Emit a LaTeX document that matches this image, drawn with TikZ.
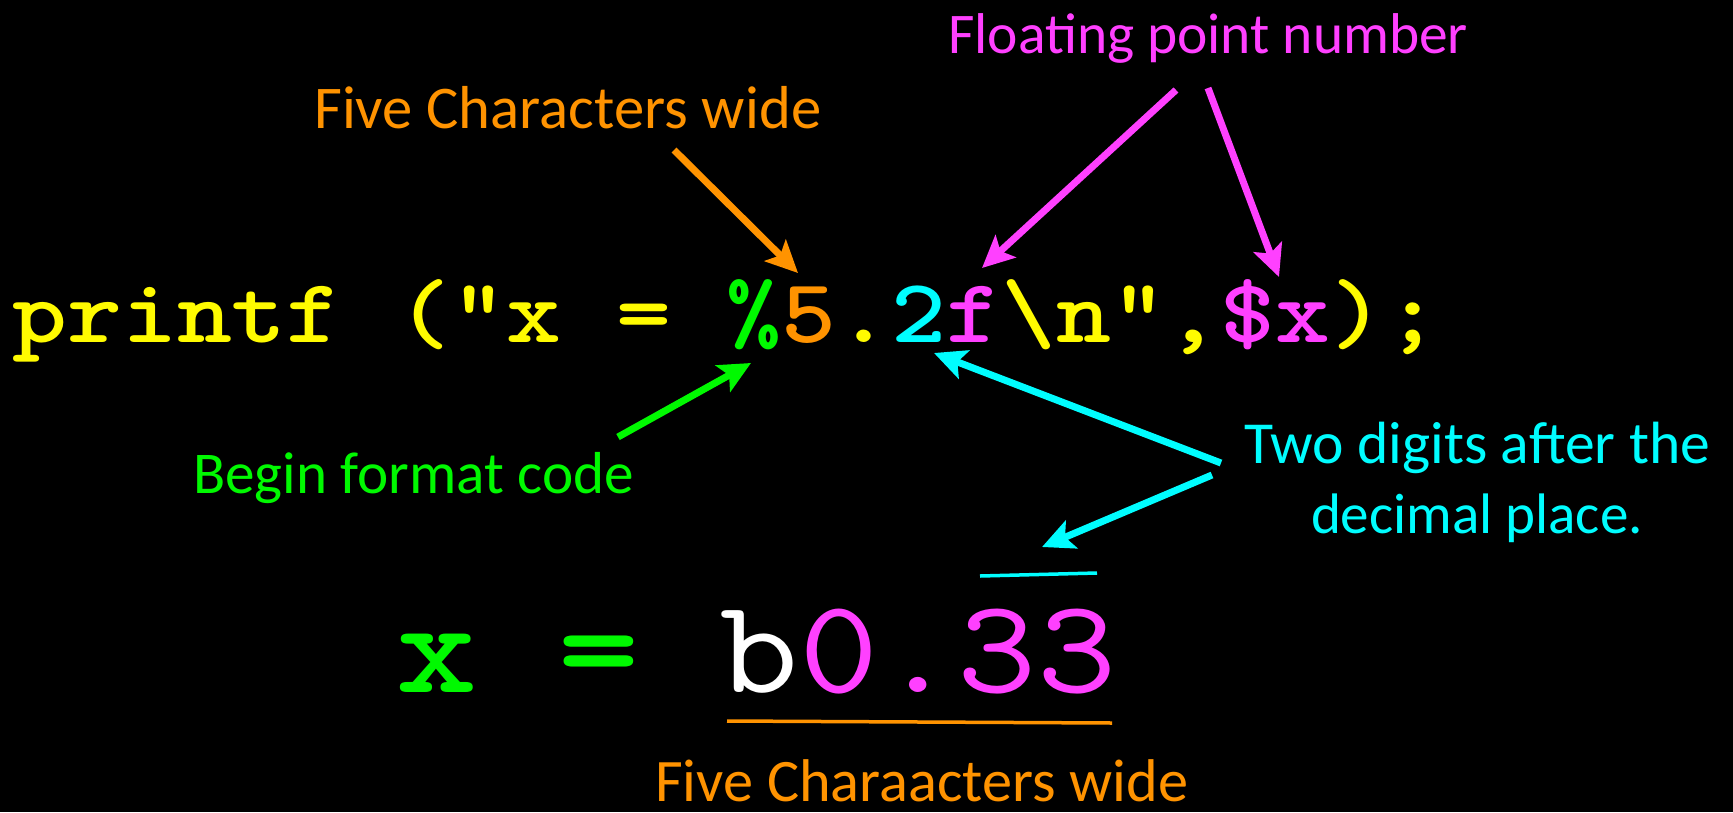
\documentclass[tikz,border=0pt]{standalone}
\usepackage{fontspec}
\usepackage{graphicx}
\usetikzlibrary{arrows.meta}
\newfontfamily\lblfont{Carlito}
\definecolor{cyel}{HTML}{FFFB00}
\definecolor{cgrn}{HTML}{00F900}
\definecolor{corg}{HTML}{FF9300}
\definecolor{cpnk}{HTML}{FF40FF}
\definecolor{ccyn}{HTML}{00FDFF}
\newcommand\fitto[2]{\resizebox{#1}{!}{#2}}
\newcommand\widett[1]{\scalebox{1.15}[1]{#1}}
\tikzset{
  lbl/.style={inner sep=0pt, anchor=base west, font=\lblfont\fontsize{61}{70}\selectfont},
  code/.style={inner sep=0pt, anchor=base west},
  arr/.style={line width=7pt, -{Stealth[length=32pt,width=30pt,inset=7pt]}},
  bar/.style={line width=3.5pt}
}
\begin{document}
\begin{tikzpicture}[x=1pt,y=-1pt]
\fill[black] (0,0) rectangle (1733,812);
\useasboundingbox (0,0) rectangle (1733,812);

% code line
\node[code, font=\ttfamily\bfseries\fontsize{91}{91}\selectfont] (codeline) at (12,342)
  {\widett{\color{cyel}printf ("x = \color{cgrn}\%\color{corg}5\color{cyel}.\color{ccyn}2\color{cpnk}f\color{cyel}\textbackslash n",\color{cpnk}\$x\color{cyel});}};

% result line
\node[code, font=\ttfamily\fontsize{134}{134}\selectfont] (result) at (396,692)
  {\widett{{\bfseries\color{cgrn}x = }\color{white}b\color{cpnk}0.33}};

% labels
\node[lbl, text=corg] (fivetop) at (314,128) {\fitto{507pt}{Five Characters wide}};
\node[lbl, text=cpnk] (float) at (948,53) {\fitto{520pt}{Floating point number}};
\node[lbl, text=cgrn] (begin) at (193,493) {\fitto{441pt}{Begin format code}};
\node[lbl, text=ccyn, anchor=base, align=center] (twodig) at (1477,533)
  {\fitto{466pt}{Two digits after the}\\\fitto{332pt}{decimal place.}};
\node[lbl, text=corg, text depth=0pt] (fivebot) at (655,801) {\fitto{533pt}{Five Charaacters wide}};

% arrow end points
\coordinate (oS) at (674,150);  \coordinate (oT) at (798,273);
\coordinate (p1S) at (1176,90); \coordinate (p1T) at (982,268);
\coordinate (p2S) at (1208,88); \coordinate (p2T) at (1279,277);
\coordinate (gS) at (618,437);  \coordinate (gT) at (751,363);
\coordinate (c1S) at (1221,463); \coordinate (c1T) at (934,353);
\coordinate (c2S) at (1212,475); \coordinate (c2T) at (1042,547);
\coordinate (cbA) at (980,576);  \coordinate (cbB) at (1097,573);
\coordinate (obA) at (727,721);  \coordinate (obB) at (1112,723);

\draw[arr, corg] (oS) -- (oT);
\draw[arr, cpnk] (p1S) -- (p1T);
\draw[arr, cpnk] (p2S) -- (p2T);
\draw[arr, cgrn] (gS) -- (gT);
\draw[arr, ccyn] (c1S) -- (c1T);
\draw[arr, ccyn] (c2S) -- (c2T);
\draw[bar, ccyn] (cbA) -- (cbB);
\draw[bar, corg] (obA) -- (obB);
\end{tikzpicture}
\end{document}
